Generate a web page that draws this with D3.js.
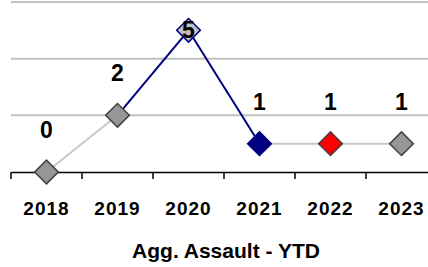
<!DOCTYPE html>
<html>
<head>
<meta charset="utf-8">
<script src="https://cdn.jsdelivr.net/npm/d3@7"></script>
<style>
  body { margin: 0; background: #fff; }
  text { font-family: 'Liberation Sans', Arial, sans-serif; font-weight: bold; fill: #000; }
</style>
</head>
<body>
<script>
// chart data
var years = ['2018', '2019', '2020', '2021', '2022', '2023'];
var counts = [0, 2, 5, 1, 1, 1];
var gridTicks = [2, 4, 6];
var title = 'Agg. Assault - YTD';

// per point / per segment styling
var segColors = ['#c8c8c8', '#000080', '#000080', '#c8c8c8', '#c8c8c8'];
var markerFill = ['#969696', '#969696', '#c0c0c0', '#000080', '#ff0000', '#969696'];
var markerStroke = ['#404040', '#404040', '#000080', '#000080', '#404040', '#404040'];

var svg = d3
  .select('body')
  .append('svg')
  .attr('width', 428)
  .attr('height', 267);

var x = d3.scaleBand().domain(years).range([11, 437]).padding(0);
var y = d3.scaleLinear().domain([0, 6]).range([172, 2]);
function cx(d) { return x(d) + x.bandwidth() / 2; }

// gridlines
svg
  .selectAll('.grid')
  .data(gridTicks)
  .enter()
  .append('line')
  .attr('x1', 11)
  .attr('x2', 428)
  .attr('y1', function (d) { return y(d); })
  .attr('y2', function (d) { return y(d); })
  .attr('stroke', '#c0c0c0')
  .attr('stroke-width', 2);

// x axis
var xAxis = d3.axisBottom(x).tickSize(0).tickFormat('');
svg.append('g').attr('transform', 'translate(0,' + y(0) + ')').call(xAxis)
  .select('.domain').attr('stroke', '#000').attr('stroke-width', 1.5);
svg
  .selectAll('.tick-mark')
  .data(years.concat(['end']))
  .enter()
  .append('line')
  .attr('x1', function (d, i) { return 11 + i * x.bandwidth(); })
  .attr('x2', function (d, i) { return 11 + i * x.bandwidth(); })
  .attr('y1', y(0))
  .attr('y2', y(0) + 7)
  .attr('stroke', '#000')
  .attr('stroke-width', 1.5);

svg
  .selectAll('.xlab')
  .data(years)
  .enter()
  .append('text')
  .attr('x', function (d) { return cx(d); })
  .attr('y', 215)
  .attr('text-anchor', 'middle')
  .style('font-size', '19px')
  .style('letter-spacing', '1px')
  .text(function (d) { return d; });

// line segments
svg
  .selectAll('.seg')
  .data(segColors)
  .enter()
  .append('line')
  .attr('x1', function (d, i) { return cx(years[i]); })
  .attr('y1', function (d, i) { return y(counts[i]); })
  .attr('x2', function (d, i) { return cx(years[i + 1]); })
  .attr('y2', function (d, i) { return y(counts[i + 1]); })
  .attr('stroke', function (d) { return d; })
  .attr('stroke-width', 2);

// diamond markers
var diamond = d3.symbol().type(d3.symbolSquare).size(280);
svg
  .selectAll('.mk')
  .data(counts)
  .enter()
  .append('path')
  .attr('d', diamond)
  .attr('transform', function (d, i) {
    return 'translate(' + cx(years[i]) + ',' + y(d) + ') rotate(45)';
  })
  .attr('fill', function (d, i) { return markerFill[i]; })
  .attr('stroke', function (d, i) { return markerStroke[i]; })
  .attr('stroke-width', 1.5);

// data labels
var maxV = d3.max(counts);
svg
  .selectAll('.dl')
  .data(counts)
  .enter()
  .append('text')
  .attr('x', function (d, i) { return cx(years[i]); })
  .attr('y', function (d) { return d === maxV ? y(d) + 8 : y(d) - 34; })
  .attr('text-anchor', 'middle')
  .style('font-size', '23px')
  .text(function (d) { return d; });

// title
svg
  .append('text')
  .attr('x', 226)
  .attr('y', 258)
  .attr('text-anchor', 'middle')
  .style('font-size', '21px')
  .text(title);
</script>
</body>
</html>
